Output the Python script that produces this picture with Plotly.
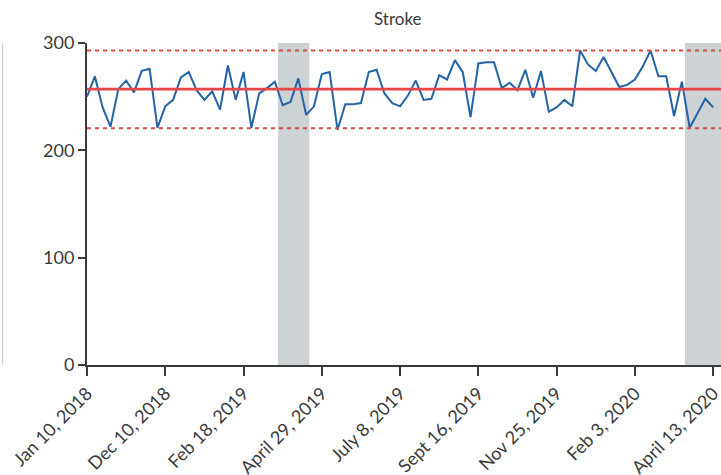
import plotly.graph_objects as go

# Weekly stroke admissions (week index 0..80)
weekly_counts = [
    250, 269, 240, 222, 257, 265, 254, 274, 276, 221,
    241, 247, 268, 273, 256, 247, 255, 238, 279, 247,
    273, 221, 253, 258, 264, 242, 245, 267, 233, 241,
    271, 273, 219, 243, 243, 244, 273, 275, 253, 244,
    241, 251, 265, 247, 248, 270, 266, 284, 273, 231,
    281, 282, 282, 258, 263, 256, 275, 249, 274, 236,
    240, 247, 241, 293, 280, 274, 287, 273, 259, 261,
    266, 278, 293, 269, 269, 232, 264, 221, 234, 248,
    240,
]
week_index = list(range(len(weekly_counts)))

# Control chart limits
centre_line = 257
upper_limit = 293
lower_limit = 220.5

# Shaded comparison periods (week index ranges)
shaded_periods = [(24.4, 28.4), (76.4, 81.0)]

tick_weeks = [0, 10, 20, 30, 40, 50, 60, 70, 80]
tick_labels = [
    "Jan 10, 2018", "Dec 10, 2018", "Feb 18, 2019", "April 29, 2019",
    "July 8, 2019", "Sept 16, 2019", "Nov 25, 2019", "Feb 3, 2020",
    "April 13, 2020",
]

FONT = "Lato"
RED = "#e8464b"
INK = "#3a3a3a"

fig = go.Figure()

fig.add_trace(go.Scatter(
    x=week_index, y=weekly_counts, mode="lines",
    line=dict(color="#2464a6", width=2),
    showlegend=False, hoverinfo="skip",
))

shapes = []
for x0, x1 in shaded_periods:
    shapes.append(dict(
        type="rect", xref="x", yref="y", x0=x0, x1=x1, y0=0, y1=300,
        fillcolor="#cdd2d5", line=dict(width=0), layer="below",
    ))
shapes.append(dict(
    type="line", xref="x domain", yref="y", x0=0, x1=1,
    y0=centre_line, y1=centre_line, line=dict(color=RED, width=2.6),
))
for lim in (upper_limit, lower_limit):
    shapes.append(dict(
        type="line", xref="x domain", yref="y", x0=0, x1=1,
        y0=lim, y1=lim, line=dict(color="#d84a4a", width=2, dash="4px,4px"),
    ))
# edge of the neighbouring panel
shapes.append(dict(
    type="line", xref="paper", yref="y", x0=-0.133, x1=-0.133,
    y0=0, y1=300, line=dict(color="#c4c4c4", width=1),
))

fig.update_layout(
    width=721, height=475,
    margin=dict(l=87, r=0, t=43, b=110),
    paper_bgcolor="white", plot_bgcolor="white",
    font=dict(family=FONT, size=15, color=INK),
    shapes=shapes,
    annotations=[dict(
        text="Stroke", xref="paper", yref="paper", x=0.49, y=1.0,
        yshift=25, showarrow=False, font=dict(family=FONT, size=17, color=INK),
        xanchor="center", yanchor="middle",
    )],
    xaxis=dict(
        range=[0, 81], tickmode="array", tickvals=tick_weeks, ticktext=tick_labels,
        tickangle=-45, ticks="outside", ticklen=9, tickwidth=2, tickcolor=INK,
        showline=True, linecolor=INK, linewidth=2, showgrid=False, zeroline=False,
        tickfont=dict(family=FONT, size=18, color=INK),
        automargin=False, ticklabeloverflow="allow",
    ),
    yaxis=dict(
        range=[0, 300], tickvals=[0, 100, 200, 300], ticks="outside", ticklen=7,
        tickwidth=2, tickcolor=INK, showline=True, linecolor=INK,
        linewidth=2, showgrid=False, zeroline=False,
        tickfont=dict(family=FONT, size=18, color=INK),
        automargin=False,
    ),
)

fig.write_html("out.html")
